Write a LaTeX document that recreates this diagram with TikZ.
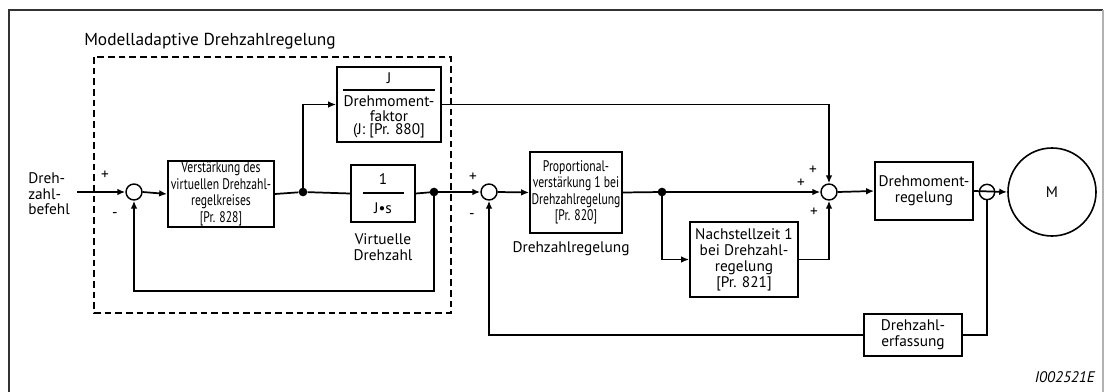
\documentclass[tikz,border=0pt]{standalone}
\usepackage{fontspec}
\setmainfont{PT Sans}
\newfontfamily\condfont[FakeStretch=0.76]{PT Sans}
\usetikzlibrary{arrows.meta,calc}
\tikzset{
  blk/.style={draw, line width=1.3pt, inner sep=1pt, align=center},
  cond/.style={font=\condfont\fontsize{11.5}{12.4}\selectfont},
  sumc/.style={draw, circle, line width=1.1pt, minimum size=12pt, inner sep=0pt},
  dotn/.style={circle, fill, minimum size=6.5pt, inner sep=0pt},
  conn/.style={line width=1.3pt},
  arr/.style={line width=1.3pt, -{Latex[length=6pt,width=5pt]}},
  lbl/.style={inner sep=0pt, align=center},
  dashbox/.style={line width=1.2pt, dash pattern=on 5pt off 3pt},
}
\begin{document}
\begin{tikzpicture}[x=0.75pt,y=-0.75pt, font=\fontsize{11.5}{11.8}\selectfont]
\useasboundingbox (0,0) rectangle (1105,392);
% frame
\draw[line width=1.5pt, black!80] (9,392) -- (9,10) -- (1103,10);
\draw[line width=0.8pt, black!30] (1103,10) -- (1103,392);

% title and dashed region
\node[anchor=west, inner sep=0pt, font=\fontsize{13}{15}\selectfont] (title) at (84,41) {Modelladaptive Drehzahlregelung};
\draw[dashbox] (94,57) rectangle (451,313);

% input
\node[lbl, anchor=west, align=left, font=\fontsize{11.5}{11.7}\selectfont] (cmd) at (28,194) {Dreh-\\zahl-\\befehl};
\coordinate (in) at (77,192);

% summing points
\node[sumc] (s1) at (134,192) {};
\node[sumc] (s2) at (489,192) {};
\node[sumc] (s3) at (829,192) {};
\node[sumc, minimum size=11.5pt] (s4) at (987,192) {};

% blocks
\node[blk, cond, minimum width=79.5pt, minimum height=49.5pt] (b1) at (221,194) {Verstärkung des\\virtuellen Drehzahl-\\regelkreises\\{}[Pr. 828]};
\node[blk, minimum width=78pt, minimum height=56.25pt] (bJ) at (389,104.5) {};
\node[lbl] (bJa) at (389,78) {J};
\node[lbl] (bJb) at (389,101) {Drehmoment-};
\node[lbl] (bJc) at (389,116) {faktor};
\node[lbl] (bJd) at (389,131) {(J: [Pr. 880]};
\draw[line width=0.9pt] (343,90) -- (435,90);

\node[blk, minimum width=48pt, minimum height=42.75pt] (bJs) at (383,193.5) {};
\node[lbl] (bJs1) at (383,179) {1};
\node[lbl] (bJs2) at (383,208) {J•s};
\draw[line width=0.9pt] (363,193) -- (404,193);
\node[lbl] (vd) at (383,247) {Virtuelle\\Drehzahl};

\node[blk, cond, minimum width=69pt, minimum height=60.75pt] (bP) at (576,192.5) {Proportional-\\verstärkung 1 bei\\Drehzahlregelung\\{}[Pr. 820]};
\node[lbl] (dr) at (571,249) {Drehzahlregelung};

\node[blk, minimum width=81pt, minimum height=56.25pt, font=\fontsize{11.5}{12}\selectfont] (bN) at (744,259.5) {Nachstellzeit 1\\bei Drehzahl-\\regelung\\{}[Pr. 821]};

\node[blk, minimum width=73.5pt, minimum height=43.5pt] (bD) at (924,191) {Drehmoment-\\regelung};
\node[blk, minimum width=73.5pt, minimum height=31.5pt] (bE) at (913,335) {Drehzahl-\\erfassung};

\node[draw, circle, line width=1.2pt, minimum size=66pt, inner sep=0pt] (M) at (1052,192) {M};

% dots
\node[dotn] (d1) at (303,192) {};
\node[dotn] (d2) at (434,192) {};
\node[dotn] (d3) at (662,192) {};
\coordinate (fb1) at (434,291);

% connectors
\draw[arr] (in) -- (s1.west);
\draw[arr] (s1.east) -- (b1.west);
\draw[conn] (b1.east) -- (d1) -- (bJs.west);
\draw[arr] (d1.center) |- (bJ.west);
\draw[arr] (bJ.east) -| (s3.north);
\draw[conn] (bJs.east) -- (d2.center);
\draw[arr] (d2.center) -- (s2.west);
\draw[arr] (d2.center) -- (fb1) -| (s1.south);
\draw[arr] (s2.east) -- (bP.west);
\draw[conn] (bP.east) -- (d3.center);
\draw[arr] (d3.center) -- (s3.west);
\draw[arr] (d3.center) |- (bN.west);
\draw[arr] (bN.east) -| (s3.south);
\draw[arr] (s3.east) -- (bD.west);
\draw[arr] (bD.east) -- (M.west);
\draw[conn] (bE.east) -| (s4.south);
\draw[arr] (bE.west) -| (s2.south);

% signs
\node[lbl] (p1) at (105,175) {+};
\node[lbl] (m1) at (115,215) {-};
\node[lbl] (p2) at (473,177) {+};
\node[lbl] (m2) at (472,216) {-};
\node[lbl] (p3) at (813,170) {+};
\node[lbl] (p4) at (801,183) {+};
\node[lbl] (p5) at (814,212) {+};

\node[lbl, anchor=east, font=\itshape\fontsize{11.5}{12}\selectfont] (id) at (1095,377) {I002521E};
\end{tikzpicture}
\end{document}
